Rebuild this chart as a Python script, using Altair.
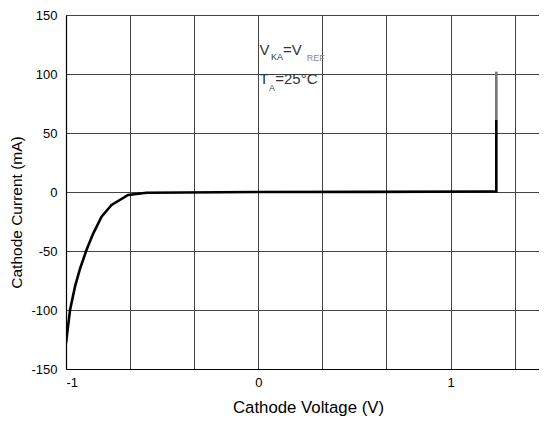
import altair as alt
import pandas as pd

# Main curve (cathode voltage V, cathode current mA), in drawing order
volt = [-1.0, -0.979, -0.953, -0.927, -0.893, -0.858, -0.815, -0.763, -0.677, -0.581, 0.0, 0.6, 1.2, 1.238, 1.238]
curr = [-128, -100, -80, -65, -49, -35, -21, -11, -2.5, -0.6, 0.0, 0.1, 0.4, 0.5, 61]
# upper (grey) part of the vertical rise
volt_top = [1.238, 1.238]
curr_top = [61, 102]

x_ticks = [-1, -2/3, -1/3, 0, 1/3, 2/3, 1, 4/3]
y_ticks = [-150, -100, -50, 0, 50, 100, 150]

# annotation pieces
ann_text = ["V", "KA", "=V", "REF", "T", "A", "=25°C"]
ann_x = [0.007, 0.066, 0.128, 0.252, 0.007, 0.056, 0.088]
ann_y = [116.0, 111.5, 116.0, 111.0, 91.5, 86.0, 91.5]
ann_size = [15, 9, 15, 9, 15, 9, 15]
ann_color = ["#333333", "#333333", "#333333", "#888888", "#333333", "#555555", "#333333"]

df = pd.DataFrame({"v": volt, "i": curr, "k": list(range(len(volt)))})
df_top = pd.DataFrame({"v": volt_top, "i": curr_top, "k": [0, 1]})
df_ann = pd.DataFrame({"t": ann_text, "v": ann_x, "i": ann_y, "s": ann_size, "c": ann_color})

FONT = "Liberation Sans"
xs = alt.Scale(domain=[-1, 1.46], nice=False, zero=False)
ys = alt.Scale(domain=[-150, 150], nice=False, zero=False)

x_axis = alt.Axis(
    values=x_ticks, title="Cathode Voltage (V)", grid=True, ticks=False,
    labelExpr="abs(datum.value - round(datum.value)) < 0.01 ? '' + round(datum.value) : ''",
    labelFontSize=13, labelColor="black", labelPadding=7, labelFont=FONT,
    titleFont=FONT, titleFontSize=16.8, titleFontWeight="normal", titleColor="black", titlePadding=10,
    titleX=242,
    gridColor="#444444", gridWidth=1, gridOpacity=1, domainColor="black", domainWidth=1.2,
)
y_axis = alt.Axis(
    values=y_ticks, title="Cathode Current (mA)", grid=True, ticks=False,
    labelExpr="'' + datum.value",
    labelFontSize=13, labelColor="black", labelPadding=9, labelFont=FONT,
    titleFont=FONT, titleFontSize=15.5, titleFontWeight="normal", titleColor="black", titlePadding=6,
    titleY=197,
    gridColor="#444444", gridWidth=1, gridOpacity=1, domainColor="black", domainWidth=1.2,
)

base = alt.Chart(df).mark_line(color="black", strokeWidth=2.6, clip=True).encode(
    x=alt.X("v:Q", scale=xs, axis=x_axis),
    y=alt.Y("i:Q", scale=ys, axis=y_axis),
    order="k:Q",
)
top = alt.Chart(df_top).mark_line(color="#777777", strokeWidth=2.6).encode(
    x=alt.X("v:Q", scale=xs), y=alt.Y("i:Q", scale=ys), order="k:Q",
)
ann = alt.Chart(df_ann).mark_text(align="left", baseline="alphabetic", font=FONT).encode(
    x=alt.X("v:Q", scale=xs), y=alt.Y("i:Q", scale=ys),
    text="t:N",
    size=alt.Size("s:Q", scale=None, legend=None),
    color=alt.Color("c:N", scale=None, legend=None),
)

chart = alt.layer(base, top, ann).properties(
    width=473, height=354,
    autosize=alt.AutoSizeParams(type="none"),
    padding={"left": 58, "top": 7, "right": 0, "bottom": 48},
).configure_view(strokeWidth=0).configure(background="white")

chart.save("out.html", embed_options={"renderer": "svg", "actions": False})
